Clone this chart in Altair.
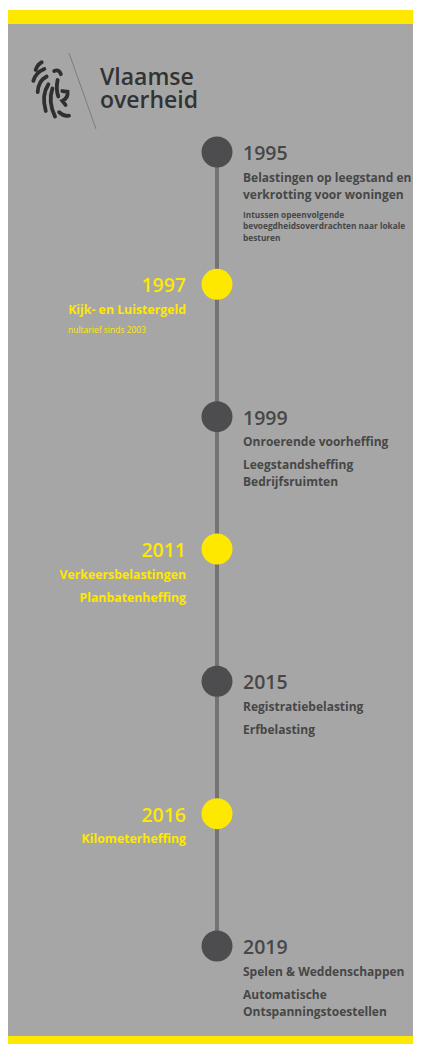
import altair as alt
import pandas as pd

# ---------------- data ----------------
years = [1995, 1997, 1999, 2011, 2015, 2016, 2019]
headlines = [
    [["Belastingen op leegstand en", "verkrotting voor woningen"]],
    [["Kijk- en Luistergeld"]],
    [["Onroerende voorheffing"], ["Leegstandsheffing", "Bedrijfsruimten"]],
    [["Verkeersbelastingen"], ["Planbatenheffing"]],
    [["Registratiebelasting"], ["Erfbelasting"]],
    [["Kilometerheffing"]],
    [["Spelen & Weddenschappen"], ["Automatische", "Ontspanningstoestellen"]],
]
notes = [
    ["Intussen opeenvolgende", "bevoegdheidsoverdrachten naar lokale", "besturen"],
    ["nultarief sinds 2003"],
    [], [], [], [], [],
]
logo_lines = ["Vlaamse", "overheid"]

# ---------------- layout / style ----------------
W, H = 405, 1036
Y_FIRST, Y_LAST = 144, 938
STEP = (Y_LAST - Y_FIRST) / (len(years) - 1)
LINE_X = 209
RIGHT_X, LEFT_X, LEFT_NOTE_X = 235, 178, 60
YEAR_OFF, FIRST_OFF, PARA_GAP, WRAP, NOTE_GAP, NOTE_WRAP = 8, 29.5, 23, 17, 19, 11.5

GREY_BG = "#a6a6a6"
YELLOW = "#ffe800"
DARK = "#4d4d4f"
LINE_C = "#737373"
TEXT_DARK = "#474747"
FONT = "Open Sans"

rows = []
for i, (yr, paras, note) in enumerate(zip(years, headlines, notes)):
    side = "right" if i % 2 == 0 else "left"
    rows.append(dict(idx=i, side=side, role="year", text=str(yr), off=YEAR_OFF))
    off = FIRST_OFF
    for p_i, para in enumerate(paras):
        if p_i > 0:
            off += PARA_GAP
        for l_i, line in enumerate(para):
            if l_i > 0:
                off += WRAP
            rows.append(dict(idx=i, side=side, role="main", text=line, off=off))
    for n_i, line in enumerate(note):
        off += NOTE_GAP if n_i == 0 else NOTE_WRAP
        rows.append(dict(idx=i, side=side, role="note", text=line, off=off))
texts = pd.DataFrame(rows)
texts["pos"] = texts["idx"] + texts["off"] / STEP

events = pd.DataFrame({
    "idx": list(range(len(years))),
    "year": years,
    "side": ["right" if i % 2 == 0 else "left" for i in range(len(years))],
})

one = pd.DataFrame({"k": [0]})
logo_df = pd.DataFrame({"line": logo_lines, "n": [0, 1]})

yscale = alt.Scale(domain=[0, len(years) - 1], range=[Y_FIRST, Y_LAST], nice=False, zero=False)
cscale = alt.Scale(domain=["right", "left"], range=[DARK, YELLOW])
tscale = alt.Scale(domain=["right", "left"], range=[TEXT_DARK, YELLOW])

# ---------------- background ----------------
panel = alt.Chart(one).mark_rect(color=GREY_BG).encode(
    x=alt.value(0), x2=alt.value(W), y=alt.value(16), y2=alt.value(H - 8))
band_top = alt.Chart(one).mark_rect(color=YELLOW).encode(
    x=alt.value(0), x2=alt.value(W), y=alt.value(2), y2=alt.value(16))
band_bot = alt.Chart(one).mark_rect(color=YELLOW).encode(
    x=alt.value(0), x2=alt.value(W), y=alt.value(H - 8), y2=alt.value(H))

# ---------------- logo ----------------
LION = ("M-0.53,-0.66 Q-0.46,-0.85 -0.32,-0.92 "
        "M-0.61,-0.28 Q-0.53,-0.57 -0.23,-0.69 "
        "M-0.46,0.11 Q-0.44,-0.28 -0.15,-0.43 "
        "M-0.18,0.76 Q-0.34,0.21 -0.09,-0.16 "
        "M0.14,0.95 Q-0.11,0.44 0.05,-0.02 "
        "M0.11,-0.62 Q0.28,-0.69 0.34,-0.51 "
        "M0.23,-0.31 Q0.16,-0.02 0.25,0.26 "
        "M0.39,0.07 L0.57,0.09 Q0.6,0.32 0.39,0.41 L0.5,0.55 "
        "M0.28,0.80 Q0.43,0.95 0.62,0.92")
lion = alt.Chart(one).mark_point(
    shape=LION, filled=False, stroke="#2f2f2f", strokeWidth=3.8,
    strokeCap="round", size=3364, opacity=1
).encode(x=alt.value(43), y=alt.value(81))
slash = alt.Chart(one).mark_rule(color="#7d7d7d", strokeWidth=1).encode(
    x=alt.value(61), x2=alt.value(88), y=alt.value(45), y2=alt.value(121))


def logo_layer(n, ypix):
    return alt.Chart(logo_df).transform_filter(alt.datum.n == n).mark_text(
        font=FONT, fontSize=23, fontWeight=600, color="#333333",
        align="left", baseline="alphabetic"
    ).encode(x=alt.value(92), y=alt.value(ypix), text="line:N")


logo_texts = [logo_layer(0, 77), logo_layer(1, 100)]

# ---------------- timeline ----------------
spine = alt.Chart(events).mark_rule(color=LINE_C, strokeWidth=4).encode(
    x=alt.value(LINE_X),
    y=alt.Y("min(idx):Q", scale=yscale, axis=None),
    y2="max(idx):Q")
dots = alt.Chart(events).mark_point(filled=True, opacity=1, size=960, shape="circle").encode(
    x=alt.value(LINE_X),
    y=alt.Y("idx:Q", scale=yscale, axis=None),
    color=alt.Color("side:N", scale=cscale, legend=None))


def text_layer(side, role, align, xpos, size, weight):
    return alt.Chart(texts).transform_filter(
        (alt.datum.side == side) & (alt.datum.role == role)
    ).mark_text(font=FONT, fontSize=size, fontWeight=weight, align=align,
                baseline="alphabetic").encode(
        x=alt.value(xpos),
        y=alt.Y("pos:Q", scale=yscale, axis=None),
        text="text:N",
        color=alt.Color("side:N", scale=tscale, legend=None))


labels = [
    text_layer("right", "year", "left", RIGHT_X, 19.5, 600),
    text_layer("right", "main", "left", RIGHT_X, 12, "bold"),
    text_layer("right", "note", "left", RIGHT_X, 8.3, "bold"),
    text_layer("left", "year", "right", LEFT_X, 19.5, 600),
    text_layer("left", "main", "right", LEFT_X, 12.3, "bold"),
    text_layer("left", "note", "left", LEFT_NOTE_X, 8.5, "normal"),
]

chart = alt.layer(
    panel, band_top, band_bot, lion, slash, *logo_texts, spine, dots, *labels
).resolve_scale(color="independent").properties(
    width=W, height=H, padding=0, autosize="none", background="white"
).configure_view(stroke=None)

chart.save("out.html", embed_options={"renderer": "svg", "actions": False})
